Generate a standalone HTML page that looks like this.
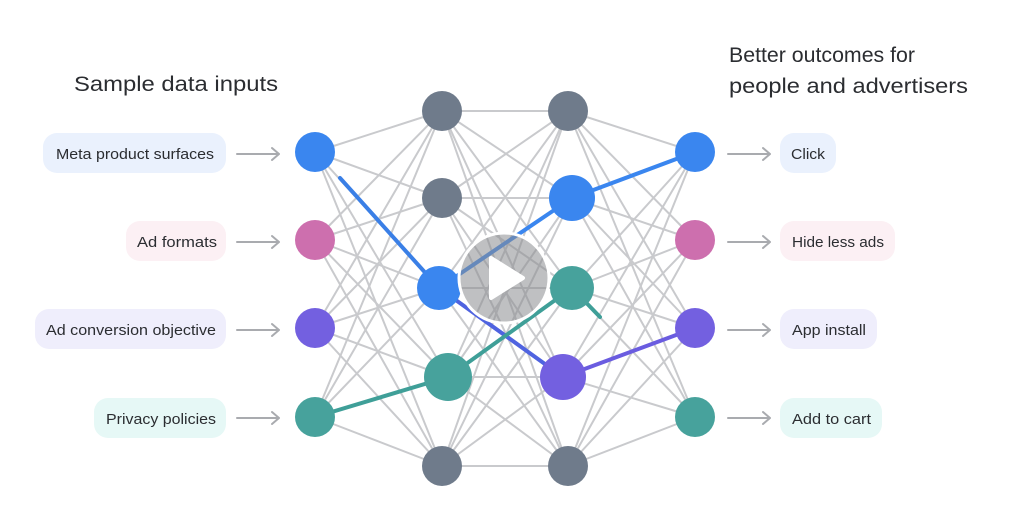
<!DOCTYPE html>
<html><head><meta charset="utf-8"><style>
html,body{margin:0;padding:0;background:#fff;width:1024px;height:532px;overflow:hidden}
svg{display:block}
text{font-family:"Liberation Sans",sans-serif;fill:#2b2d31}
</style></head><body>
<svg width="1024" height="532" viewBox="0 0 1024 532" xmlns="http://www.w3.org/2000/svg">
<g stroke="#c9cacd" stroke-width="2" fill="none">
<!-- input -> h1 -->
<line x1="315" y1="152" x2="442" y2="111"/><line x1="315" y1="152" x2="442" y2="198"/><line x1="315" y1="152" x2="439" y2="288"/><line x1="315" y1="152" x2="448" y2="377"/><line x1="315" y1="152" x2="442" y2="466"/>
<line x1="315" y1="240" x2="442" y2="111"/><line x1="315" y1="240" x2="442" y2="198"/><line x1="315" y1="240" x2="439" y2="288"/><line x1="315" y1="240" x2="448" y2="377"/><line x1="315" y1="240" x2="442" y2="466"/>
<line x1="315" y1="328" x2="442" y2="111"/><line x1="315" y1="328" x2="442" y2="198"/><line x1="315" y1="328" x2="439" y2="288"/><line x1="315" y1="328" x2="448" y2="377"/><line x1="315" y1="328" x2="442" y2="466"/>
<line x1="315" y1="417" x2="442" y2="111"/><line x1="315" y1="417" x2="442" y2="198"/><line x1="315" y1="417" x2="439" y2="288"/><line x1="315" y1="417" x2="442" y2="466"/>
<!-- h1 -> h2 -->
<line x1="442" y1="111" x2="568" y2="111"/><line x1="442" y1="111" x2="572" y2="198"/><line x1="442" y1="111" x2="572" y2="288"/><line x1="442" y1="111" x2="563" y2="377"/><line x1="442" y1="111" x2="568" y2="466"/>
<line x1="442" y1="198" x2="568" y2="111"/><line x1="442" y1="198" x2="572" y2="198"/><line x1="442" y1="198" x2="572" y2="288"/><line x1="442" y1="198" x2="563" y2="377"/><line x1="442" y1="198" x2="568" y2="466"/>
<line x1="439" y1="288" x2="568" y2="111"/><line x1="439" y1="288" x2="572" y2="288"/><line x1="439" y1="288" x2="568" y2="466"/>
<line x1="448" y1="377" x2="568" y2="111"/><line x1="448" y1="377" x2="572" y2="198"/><line x1="448" y1="377" x2="563" y2="377"/><line x1="448" y1="377" x2="568" y2="466"/>
<line x1="442" y1="466" x2="568" y2="111"/><line x1="442" y1="466" x2="572" y2="198"/><line x1="442" y1="466" x2="572" y2="288"/><line x1="442" y1="466" x2="563" y2="377"/><line x1="442" y1="466" x2="568" y2="466"/>
<!-- h2 -> out -->
<line x1="568" y1="111" x2="695" y2="152"/><line x1="568" y1="111" x2="695" y2="240"/><line x1="568" y1="111" x2="695" y2="328"/><line x1="568" y1="111" x2="695" y2="417"/>
<line x1="572" y1="198" x2="695" y2="240"/><line x1="572" y1="198" x2="695" y2="328"/><line x1="572" y1="198" x2="695" y2="417"/>
<line x1="572" y1="288" x2="695" y2="152"/><line x1="572" y1="288" x2="695" y2="240"/><line x1="572" y1="288" x2="695" y2="328"/><line x1="572" y1="288" x2="695" y2="417"/>
<line x1="563" y1="377" x2="695" y2="152"/><line x1="563" y1="377" x2="695" y2="240"/><line x1="563" y1="377" x2="695" y2="417"/>
<line x1="568" y1="466" x2="695" y2="152"/><line x1="568" y1="466" x2="695" y2="240"/><line x1="568" y1="466" x2="695" y2="328"/><line x1="568" y1="466" x2="695" y2="417"/>
</g>
<!-- highlighted paths -->
<g stroke-width="4" stroke-linecap="round" fill="none">
<line x1="340" y1="178" x2="439" y2="288" stroke="#3a7fe6"/>
<line x1="439" y1="288" x2="563" y2="377" stroke="#4f63e0"/>
<line x1="439" y1="288" x2="572" y2="198" stroke="#3a86ef"/>
<line x1="572" y1="198" x2="695" y2="152" stroke="#3a86ef"/>
<line x1="563" y1="377" x2="695" y2="328" stroke="#6a5ce0"/>
<line x1="315" y1="417" x2="448" y2="377" stroke="#3f9f98"/>
<line x1="448" y1="377" x2="572" y2="288" stroke="#3f9f98"/>
<line x1="572" y1="288" x2="600" y2="317" stroke="#3f9f98"/>
</g>
<!-- nodes -->
<g>
<circle cx="315" cy="152" r="20" fill="#3a86ef"/>
<circle cx="315" cy="240" r="20" fill="#cd6fae"/>
<circle cx="315" cy="328" r="20" fill="#7360e0"/>
<circle cx="315" cy="417" r="20" fill="#47a29c"/>
<circle cx="442" cy="111" r="20" fill="#6f7b8b"/>
<circle cx="442" cy="198" r="20" fill="#6f7b8b"/>
<circle cx="439" cy="288" r="22" fill="#3a86ef"/>
<circle cx="448" cy="377" r="24" fill="#47a29c"/>
<circle cx="442" cy="466" r="20" fill="#6f7b8b"/>
<circle cx="568" cy="111" r="20" fill="#6f7b8b"/>
<circle cx="572" cy="198" r="23" fill="#3a86ef"/>
<circle cx="572" cy="288" r="22" fill="#47a29c"/>
<circle cx="563" cy="377" r="23" fill="#7360e0"/>
<circle cx="568" cy="466" r="20" fill="#6f7b8b"/>
<circle cx="695" cy="152" r="20" fill="#3a86ef"/>
<circle cx="695" cy="240" r="20" fill="#cd6fae"/>
<circle cx="695" cy="328" r="20" fill="#7360e0"/>
<circle cx="695" cy="417" r="20" fill="#47a29c"/>
</g>
<!-- play button -->
<circle cx="504" cy="278" r="45" fill="#8a8c90" fill-opacity="0.55" stroke="#fff" stroke-width="3"/>
<path d="M491 258 L523 278 L491 298 Z" fill="#fff" stroke="#fff" stroke-width="4" stroke-linejoin="round"/>
<!-- titles -->
<text x="74" y="91" font-size="21" textLength="204" lengthAdjust="spacingAndGlyphs">Sample data inputs</text>
<text x="729" y="62" font-size="21" textLength="186" lengthAdjust="spacingAndGlyphs">Better outcomes for</text>
<text x="729" y="93" font-size="21" textLength="239" lengthAdjust="spacingAndGlyphs">people and advertisers</text>
<!-- left pills -->
<rect x="43" y="133" width="183" height="40" rx="14" fill="#eaf1fd"/>
<text x="56" y="159" font-size="15" fill="#2b2d31" textLength="158" lengthAdjust="spacingAndGlyphs">Meta product surfaces</text>
<rect x="126" y="221" width="100" height="40" rx="14" fill="#fcf0f4"/>
<text x="137" y="247" font-size="15" textLength="80" lengthAdjust="spacingAndGlyphs">Ad formats</text>
<rect x="35" y="309" width="191" height="40" rx="14" fill="#efeefc"/>
<text x="46" y="335" font-size="15" textLength="170" lengthAdjust="spacingAndGlyphs">Ad conversion objective</text>
<rect x="94" y="398" width="132" height="40" rx="14" fill="#e6f8f6"/>
<text x="106" y="424" font-size="15" textLength="110" lengthAdjust="spacingAndGlyphs">Privacy policies</text>
<!-- right pills -->
<rect x="780" y="133" width="56" height="40" rx="14" fill="#eaf1fd"/>
<text x="791" y="159" font-size="15" textLength="34" lengthAdjust="spacingAndGlyphs">Click</text>
<rect x="780" y="221" width="115" height="40" rx="14" fill="#fcf0f4"/>
<text x="792" y="247" font-size="15" textLength="92" lengthAdjust="spacingAndGlyphs">Hide less ads</text>
<rect x="780" y="309" width="97" height="40" rx="14" fill="#efeefc"/>
<text x="792" y="335" font-size="15" textLength="74" lengthAdjust="spacingAndGlyphs">App install</text>
<rect x="780" y="398" width="102" height="40" rx="14" fill="#e6f8f6"/>
<text x="792" y="424" font-size="15" textLength="79" lengthAdjust="spacingAndGlyphs">Add to cart</text>
<!-- arrows -->
<g stroke="#a9abaf" stroke-width="2" fill="none" stroke-linecap="round" stroke-linejoin="round">
<path d="M237 154 H279 M272 148 L279 154 L272 160"/>
<path d="M237 242 H279 M272 236 L279 242 L272 248"/>
<path d="M237 330 H279 M272 324 L279 330 L272 336"/>
<path d="M237 418 H279 M272 412 L279 418 L272 424"/>
<path d="M728 154 H770 M763 148 L770 154 L763 160"/>
<path d="M728 242 H770 M763 236 L770 242 L763 248"/>
<path d="M728 330 H770 M763 324 L770 330 L763 336"/>
<path d="M728 418 H770 M763 412 L770 418 L763 424"/>
</g>
</svg>
</body></html>
